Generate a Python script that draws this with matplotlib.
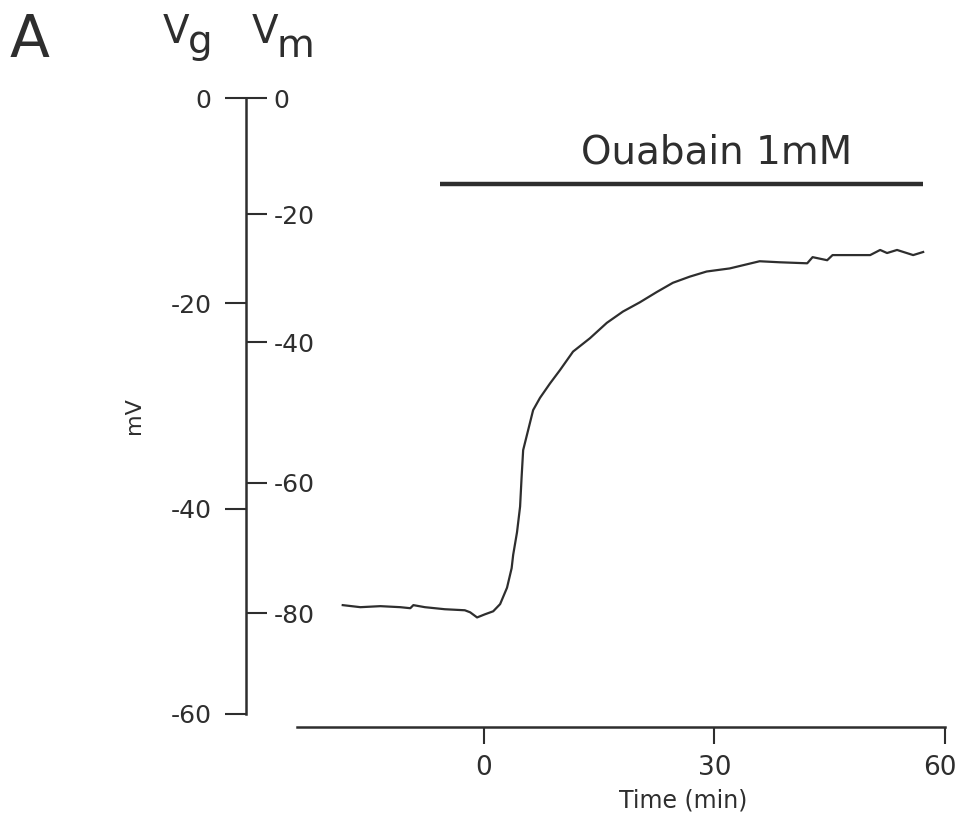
import numpy as np
import matplotlib
matplotlib.use("Agg")
import matplotlib.pyplot as plt
from matplotlib.transforms import ScaledTranslation

INK = "#2e2e2e"

# trace (time in min, value on the left Vg scale in mV)
time_min = [-18.4, -16.1, -13.5, -10.9, -9.6, -9.2, -7.7, -5.1, -2.5, -1.8, -0.9,
            0.1, 1.2, 2.1, 3.0, 3.6, 3.8, 4.3, 4.7, 4.9, 5.1, 5.7, 6.4, 7.3, 8.6,
            9.9, 11.6, 13.8, 16.0, 18.1, 20.3, 22.5, 24.6, 26.8, 29.0, 32.0, 35.9,
            38.5, 42.1, 42.8, 44.7, 45.4, 50.3, 51.6, 52.5, 53.8, 55.9, 57.2]
trace_mv = [-49.4, -49.6, -49.5, -49.6, -49.7, -49.4, -49.6, -49.8, -49.9, -50.1, -50.6,
            -50.3, -50.0, -49.3, -47.7, -45.8, -44.5, -42.3, -39.8, -36.9, -34.3, -32.5,
            -30.4, -29.2, -27.8, -26.5, -24.7, -23.4, -21.9, -20.8, -19.9, -18.9, -18.0,
            -17.4, -16.9, -16.6, -15.9, -16.0, -16.1, -15.5, -15.8, -15.3, -15.3, -14.8,
            -15.1, -14.8, -15.3, -15.0]

vg_ticks = [0, -20, -40, -60]
vm_tick_labels = ["0", "-20", "-40", "-60", "-80"]
vm_tick_pos = [0, -11.3, -23.8, -37.5, -50.2]   # where the Vm ticks sit on the Vg scale
x_ticks = [0, 30, 60]

ouabain_start, ouabain_end, ouabain_level = -5.7, 57.2, -8.4

fig = plt.figure(figsize=(9.6, 8.22), dpi=100)
ax = fig.add_axes([246 / 960, 1 - 755 / 822, 714 / 960, (755 - 77.5) / 822])
ax.set_xlim(-31, 62)
ax.set_ylim(-64, 2)

ax.plot(time_min, trace_mv, color=INK, lw=1.6)
ax.plot([ouabain_start, ouabain_end], [ouabain_level, ouabain_level], color=INK, lw=3.2,
        solid_capstyle="butt")
ax.text((ouabain_start + ouabain_end) / 2 + 4.5, -5.3, "Ouabain 1mM", fontsize=28,
        color=INK, ha="center", va="center")

for s in ["top", "right"]:
    ax.spines[s].set_visible(False)
ax.spines["left"].set_bounds(-60, 0)
ax.spines["left"].set_linewidth(1.8)
ax.spines["left"].set_color(INK)
ax.spines["bottom"].set_position(("data", -61.25))
ax.spines["bottom"].set_bounds(-24.3, 60)
ax.spines["bottom"].set_linewidth(1.8)
ax.spines["bottom"].set_color(INK)

ax.set_yticks(vg_ticks)
ax.set_yticklabels([str(v) for v in vg_ticks])
ax.tick_params(axis="y", direction="out", length=15, width=1.5, pad=10, labelsize=18,
               colors=INK)
ax.set_xticks(x_ticks)
ax.tick_params(axis="x", direction="out", length=12, width=1.5, pad=8, labelsize=19,
               colors=INK)
# keep the last label inside the figure
last = ax.get_xticklabels()[-1]
last.set_transform(last.get_transform() + ScaledTranslation(-5 / 100, 0, fig.dpi_scale_trans))

# Vm scale: ticks to the right of the same vertical line
ax2 = ax.twinx()
ax2.set_ylim(ax.get_ylim())
for s in ["top", "left", "bottom"]:
    ax2.spines[s].set_visible(False)
ax2.spines["right"].set_position(("axes", 0))
ax2.spines["right"].set_visible(False)
ax2.set_yticks(vm_tick_pos)
ax2.set_yticklabels(vm_tick_labels)
ax2.tick_params(axis="y", direction="out", length=15, width=1.5, pad=5, labelsize=18,
                colors=INK)

ax.text(26, -68.4, "Time (min)", fontsize=17, color=INK, ha="center", va="center")
fig.text(133.5 / 960, 1 - 416 / 822, "mV", fontsize=16, color=INK, rotation=90,
         ha="center", va="center")

fig.text(10 / 960, 1 - 57 / 822, "A", fontsize=42, color=INK, ha="left", va="baseline")
fig.text(163 / 960, 1 - 43 / 822, "V", fontsize=28, color=INK, ha="left", va="baseline")
fig.text(188 / 960, 1 - 53 / 822, "g", fontsize=28, color=INK, ha="left", va="baseline")
fig.text(252 / 960, 1 - 43 / 822, "V", fontsize=28, color=INK, ha="left", va="baseline")
fig.text(277 / 960, 1 - 57 / 822, "m", fontsize=28, color=INK, ha="left", va="baseline")

fig.savefig("out.png", dpi=100)
